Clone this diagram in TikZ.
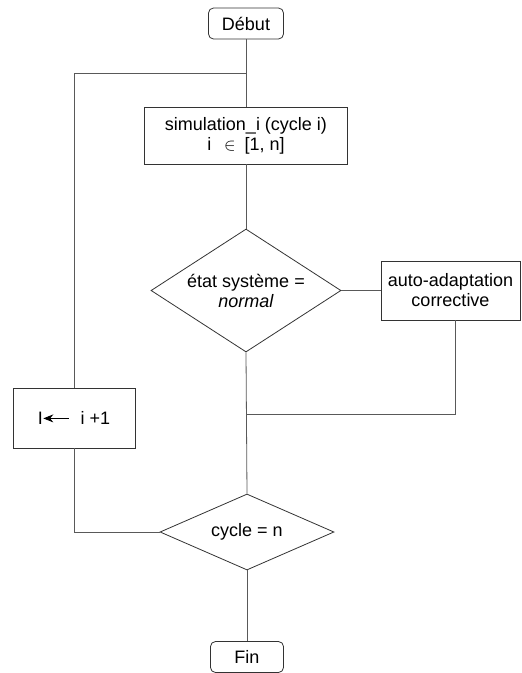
\documentclass[tikz,border=0pt]{standalone}
\usepackage{fontspec}
\setmainfont{Liberation Sans}
\usetikzlibrary{shapes.geometric,arrows.meta,calc}
\begin{document}
\begin{tikzpicture}[x=1pt,y=-1pt,
  every node/.style={font=\fontsize{18}{20}\selectfont, align=center, inner sep=0pt},
  box/.style={draw=black!80, line width=0.8pt, rectangle},
  term/.style={box, rounded corners=5pt},
  decision/.style={draw=black!80, line width=0.8pt, diamond},
  link/.style={draw=black!65, line width=0.8pt}]
\useasboundingbox (0,0) rectangle (522,673);
\node[term, minimum width=75pt, minimum height=31pt] (debut) at (246,23.5) {Début};
\node[box, minimum width=203pt, minimum height=57pt] (sim) at (246,135.5)
  {simulation\_i (cycle i)\\ i\hspace{0.7em}$\in$\hspace{0.5em}[1, n]};
\node[decision, aspect=1.545, minimum width=190pt, minimum height=123pt] (d1) at (246,290.5)
  {état système =\\ \textit{normal}};
\node[box, minimum width=139pt, minimum height=59pt] (auto) at (450.5,290.5)
  {auto-adaptation\\ corrective};
\node[box, minimum width=122pt, minimum height=60pt] (inc) at (74,418)
  {I\tikz[baseline=0pt,x=1pt,y=1pt]{\draw[black, line width=0.9pt, {Stealth[length=10pt,width=8pt]}-] (0,0.34em) -- (26pt,0.34em);}\hspace{0.6em}i +1};
\node[decision, aspect=2.29, minimum width=174pt, minimum height=76pt] (d2) at (247,532)
  {cycle = n};
\node[term, minimum width=73pt, minimum height=31pt] (fin) at (247,657) {Fin};
\coordinate (join) at (246,73);
\coordinate (merge) at (246,414);
\draw[link] (debut.south) -- (sim.north);
\draw[link] (inc.north) |- (join);
\draw[link] (sim.south) -- (d1.north);
\draw[link] (d1.east) -- (auto.west);
\draw[link] ($(auto.south)+(4.5,0)$) |- (merge);
\draw[link] (d1.south) -- (d2.north);
\draw[link] (inc.south) |- (d2.west);
\draw[link] (d2.south) -- (fin.north);
\end{tikzpicture}
\end{document}
